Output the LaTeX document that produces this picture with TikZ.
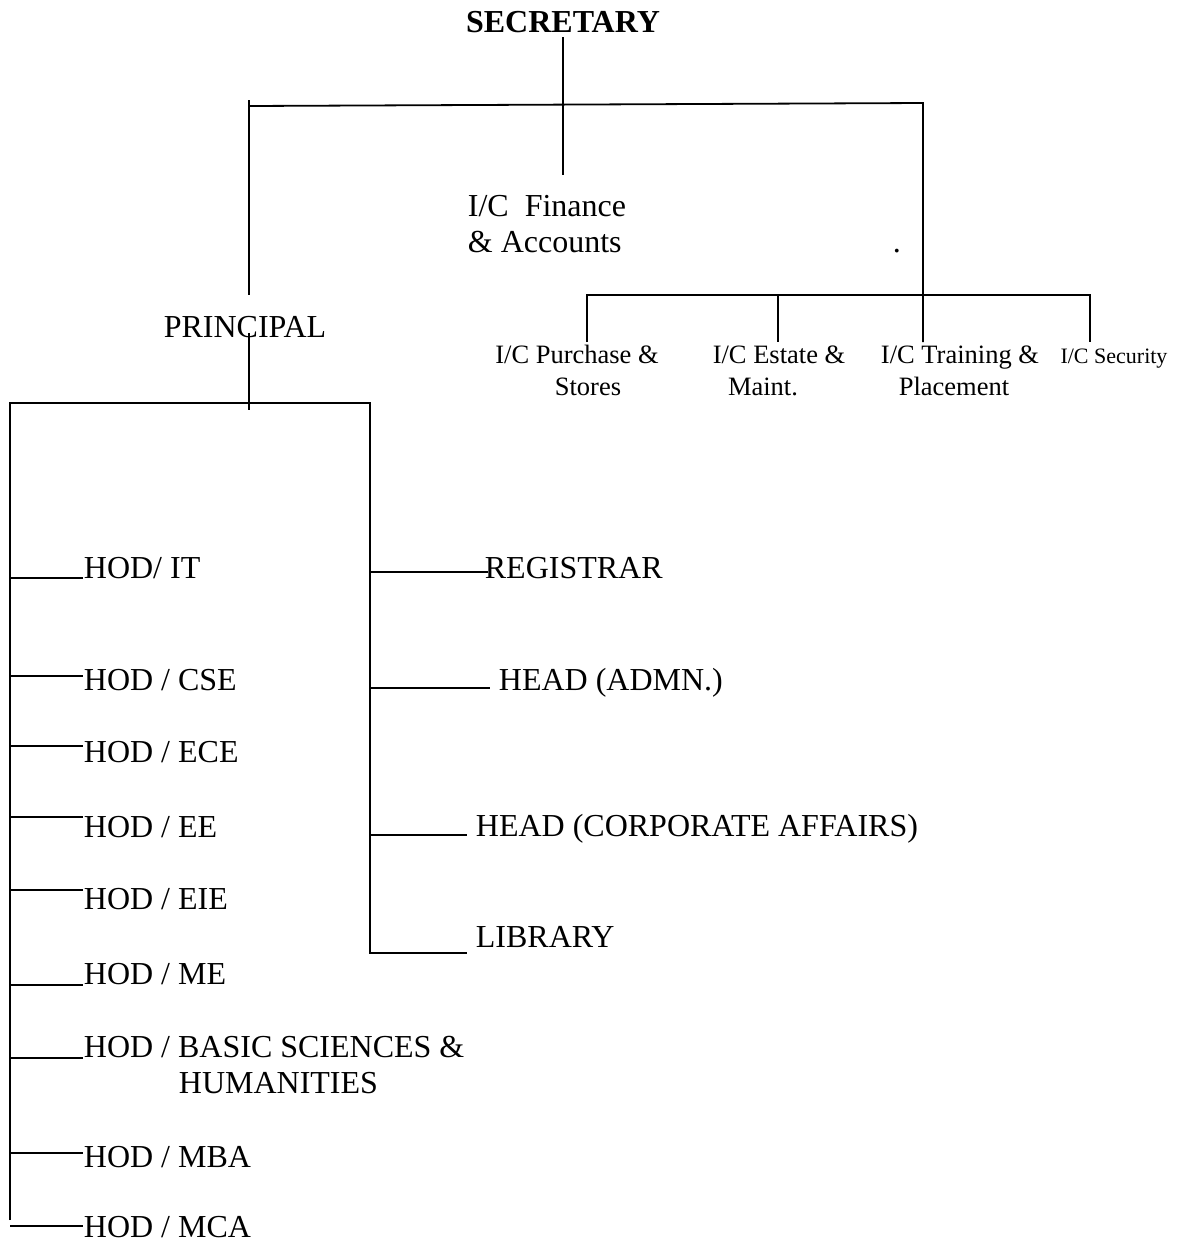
\documentclass[tikz,border=0pt]{standalone}
\usepackage{fontspec}
\setmainfont{Liberation Serif}
\usetikzlibrary{positioning}

\tikzset{
  lbl/.style={inner sep=0pt, anchor=base west, font=\fontsize{32}{36}\selectfont},
  sublbl/.style={inner sep=0pt, anchor=base, font=\fontsize{26.5}{30}\selectfont},
  headlbl/.style={inner sep=0pt, anchor=base, font=\fontsize{32}{36}\selectfont\bfseries},
}

\begin{document}
\begin{tikzpicture}[x=1pt, y=-1pt, line width=1.8pt]
\useasboundingbox (0,0) rectangle (1181,1243);

% top of the chart
\node[headlbl] (sec) at (563,32) {SECRETARY};
\draw (563,37) -- (563,175);
\draw (249,100) -- (249,295);
\draw (249,106) -- (923,103) -- (923,342);

\node[lbl] (fin1) at (467,216) {I/C~~Finance};
\node[lbl] (fin2) at (467,252) {\& Accounts};
\node[lbl] (dot) at (892,252) {.};

% in-charges under the secretary
\draw (587,342) -- (587,295) -- (1090,295) -- (1090,342);
\draw (778,295) -- (778,342);
\foreach \xa/\xb/\a/\b [count=\i] in {577/588/{I/C Purchase \&}/Stores,
    779/763/{I/C Estate \&}/{Maint.}, 960/954/{I/C Training \&}/Placement}
{
	\node[sublbl] (ic\i a) at (\xa,363) {\a};
	\node[sublbl] (ic\i b) at (\xb,395) {\b};
}
\node[sublbl, font=\fontsize{22}{26}\selectfont] (icsec) at (1114,363) {I/C Security};

% principal and departments
\node[lbl, anchor=base] (prin) at (245,337) {PRINCIPAL};
\draw (249,333) -- (249,410);
\draw (10,1220) -- (10,403) -- (370,403) -- (370,953) -- (467,953);

\foreach \ly/\by/\t [count=\i] in {578/578/{HOD/ IT}, 676/690/{HOD / CSE},
    746/762/{HOD / ECE}, 817/837/{HOD / EE}, 890/909/{HOD / EIE},
    985/984/{HOD / ME}, 1058/1057/{HOD / BASIC SCIENCES \&},
    1153/1167/{HOD / MBA}, 1226/1237/{HOD / MCA}}
{
	\node[lbl] (hod\i) at (83,\by) {\t};
	\draw (10,\ly) -- (hod\i.base west |- 10,\ly);
}
\node[lbl] (hum) at (178,1093) {HUMANITIES};

\foreach \ly/\ex/\tx/\by/\t [count=\i] in {572/488/484/578/REGISTRAR,
    688/490/498/690/{HEAD (ADMN.)}, 835/467/475/836/{HEAD (CORPORATE AFFAIRS)}}
{
	\node[lbl] (adm\i) at (\tx,\by) {\t};
	\draw (370,\ly) -- (\ex,\ly);
}
\node[lbl] (lib) at (475,947) {LIBRARY};

\end{tikzpicture}
\end{document}
